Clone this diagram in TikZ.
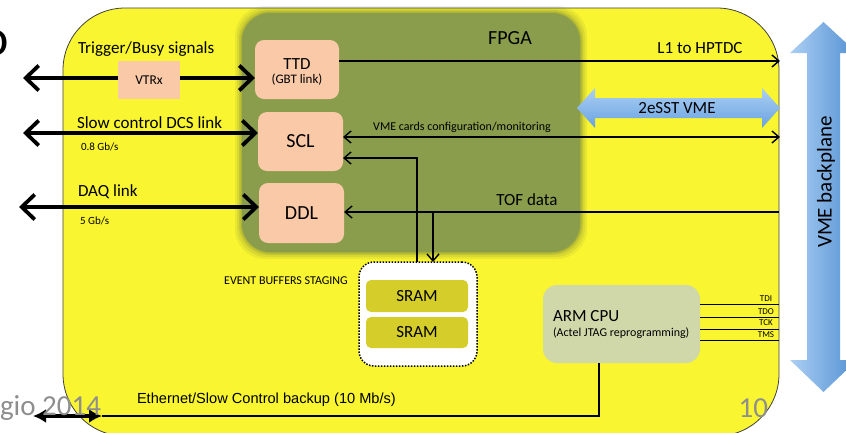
\documentclass[tikz,border=0pt]{standalone}
\usepackage{fontspec}
\setmainfont{Carlito}
\newfontfamily\helvfont{Liberation Sans}
\usetikzlibrary{arrows.meta}
\definecolor{boardyellow}{RGB}{249,245,48}
\definecolor{fpgagreen}{RGB}{137,157,76}
\definecolor{peach}{RGB}{249,201,168}
\definecolor{sramolive}{RGB}{213,205,42}
\definecolor{armgreen}{RGB}{208,216,170}
\definecolor{blueA}{RGB}{172,207,244}
\definecolor{blueB}{RGB}{104,162,224}
\definecolor{blueC}{RGB}{82,144,210}
\definecolor{footgray}{RGB}{142,142,142}
\newcommand\setfs[1]{\fontsize{#1}{#1}\selectfont}

\begin{document}
\begin{tikzpicture}[x=1pt,y=-1pt,
  every node/.style={inner sep=0pt,outer sep=0pt},
  BigBarb/.tip={Straight Barb[length=13pt,width=25pt]},
  SmallBarb/.tip={Straight Barb[length=7pt,width=12pt]},
  bus/.style={line width=3.8pt,BigBarb-BigBarb},
  sig/.style={line width=1.4pt},
  unit/.style={rounded corners=9pt,fill=peach},
  sramcell/.style={rounded corners=5pt,fill=sramolive,minimum width=102pt,minimum height=32pt,font=\setfs{17}},
  lbl/.style={anchor=west},
  foot/.style={anchor=base east,text=footgray,font=\setfs{29}},
]
\useasboundingbox (0,0) rectangle (846,432);

% carrier board
\fill[boardyellow,draw=black!75,line width=0.8pt,rounded corners=62pt] (63,8) rectangle (779,436);

% FPGA with soft edge
\foreach \g/\op in {7/0.10,5/0.13,3/0.18,1.5/0.25}
  \fill[fpgagreen!75!black,opacity=\op,rounded corners=30pt] ({242-\g},{13-\g}) rectangle ({580+\g},{252+\g});
\node[fill=fpgagreen,rounded corners=28pt,minimum width=338pt,minimum height=239pt] (fpga) at (411,132.5) {};
\node[font=\setfs{20}] (fpgalbl) at (510,38) {FPGA};

% 2eSST VME bus
\shade[top color=blueA,bottom color=blueB] (577,108) -- (595,88) -- (595,98) -- (762,98) -- (762,88) -- (780,108) -- (762,128) -- (762,118) -- (595,118) -- (595,128) -- cycle;
\node[font=\setfs{17}] (sst) at (677,108) {2eSST VME};

% FPGA blocks
\node[unit,minimum width=84pt,minimum height=59pt] (ttd) at (297,69.5)
  {\raisebox{-3pt}[\height][\depth]{\begin{tabular}{@{}c@{}}\setfs{17}TTD\\[1pt]\setfs{13}(GBT link)\end{tabular}}};
\node[unit,minimum width=85pt,minimum height=59pt,font=\setfs{20}] (scl) at (300.5,141.5) {SCL};
\node[unit,minimum width=85pt,minimum height=60pt,font=\setfs{20}] (ddl) at (301.5,213) {DDL};

% internal signals
\coordinate (l1end) at (780,61);
\draw[sig,-SmallBarb] (ttd.east |- l1end) -- (l1end);
\node[font=\setfs{17}] (l1lbl) at (700,48) {L1 to HPTDC};

\coordinate (vmeend) at (780,137);
\draw[sig,SmallBarb-SmallBarb] (scl.east |- vmeend) -- (vmeend);
\node[font=\setfs{12}] (vmelbl) at (462,127) {VME cards configuration/monitoring};

\coordinate (tofend) at (779,212);
\draw[sig,-SmallBarb] (tofend) -- (ddl.east |- tofend);
\node[font=\setfs{17}] (toflbl) at (527,200) {TOF data};

% event buffers
\node[fill=white,draw=black,line width=1.5pt,dash pattern=on 1.5pt off 1.5pt,rounded corners=15pt,minimum width=118pt,minimum height=104pt] (buf) at (418,314) {};
\node[sramcell] (sramA) at (417,296) {SRAM};
\node[sramcell,minimum height=31pt] (sramB) at (417,332.5) {SRAM};
\node[font=\setfs{12}] (buflbl) at (286,281) {EVENT BUFFERS STAGING};

\coordinate (sclbend) at (417,158);
\draw[sig,SmallBarb-] (scl.east |- sclbend) -- (sclbend) -- (sclbend |- buf.north);
\coordinate (tofbranch) at (433,212);
\draw[sig,-SmallBarb] (tofbranch) -- (tofbranch |- buf.north);

% external links
\coordinate (trigend) at (23,78);
\draw[bus] (trigend) -- (ttd.west |- trigend);
\node[fill=peach,minimum width=62pt,minimum height=38pt,font=\setfs{13.5}] (vtrx) at (149,80) {VTRx};
\node[lbl,font=\setfs{17}] (triglbl) at (78,49) {Trigger/Busy signals};

\coordinate (scend) at (23,133);
\draw[bus] (scend) -- (scl.west |- scend);
\node[lbl,font=\setfs{17}] (sclbl) at (77,123) {Slow control DCS link};
\node[lbl,font=\setfs{11}] (scrate) at (81,147) {0.8 Gb/s};

\coordinate (daqend) at (19,207);
\draw[bus] (daqend) -- (ddl.west |- daqend);
\node[lbl,font=\setfs{17}] (daqlbl) at (78,192) {DAQ link};
\node[lbl,font=\setfs{11}] (daqrate) at (80,221) {5 Gb/s};

% ARM CPU and JTAG
\node[fill=armgreen,rounded corners=14pt,minimum width=157pt,minimum height=78pt] (arm) at (621.5,324) {};
\node[lbl,font=\setfs{17}] (armlbl) at (553,316) {ARM CPU};
\node[lbl,font=\setfs{12}] (armsub) at (553,333) {(Actel JTAG reprogramming)};
\foreach \n/\ly/\ty in {TDI/304/299,TDO/317/312,TCK/329/323,TMS/340/335}{
  \coordinate (j\n) at (779,\ly);
  \draw[line width=1pt] (arm.east |- j\n) -- (j\n);
  \node[font=\setfs{9}] (jtag\n) at (766,\ty) {\n};
}

% Ethernet backup
\coordinate (ethcorner) at (599,416);
\coordinate (ethleft) at (102,416);
\coordinate (ethtip) at (33,416);
\draw[line width=2pt] (arm.south -| ethcorner) -- (ethcorner) -- (ethleft);
\draw[line width=3.5pt,{Latex[length=13pt,width=14pt]}-{Latex[length=13pt,width=14pt]}] (ethtip) -- (ethleft);
\node[lbl,font=\helvfont\setfs{14.6}] (ethlbl) at (137,400) {Ethernet/Slow Control backup (10 Mb/s)};

% VME backplane
\shade[left color=blueA,right color=blueC] (823.5,22) -- (857,53) -- (840,53) -- (840,360) -- (857,360) -- (823.5,392) -- (790,360) -- (807,360) -- (807,53) -- (790,53) -- cycle;
\node[rotate=90,font=\setfs{21}] (backplane) at (826,182) {VME backplane};

% slide footer
\node[anchor=base east,font=\setfs{52}] (title) at (9,55) {o};
\node[foot] (date) at (101,415) {gio 2014};
\node[foot] (pageno) at (768,417) {10};
\end{tikzpicture}
\end{document}
